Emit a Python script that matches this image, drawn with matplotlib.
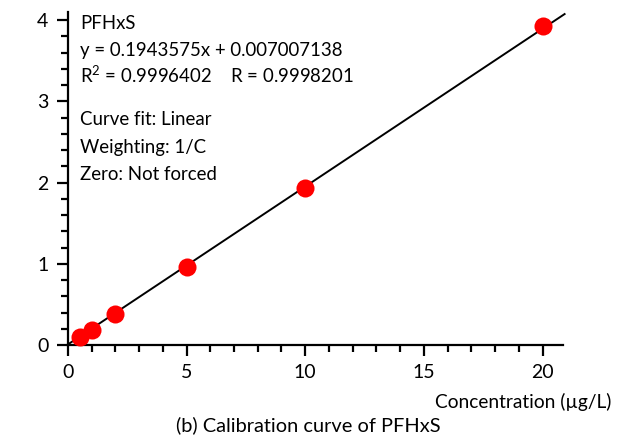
import numpy as np
import matplotlib.pyplot as plt
from matplotlib.ticker import MultipleLocator

# calibration points
conc = [0.5, 1, 2, 5, 10, 20]
response = [0.10, 0.18, 0.38, 0.96, 1.93, 3.93]

slope = 0.1943575
intercept = 0.007007138

info_lines = ["PFHxS", "y = 0.1943575x + 0.007007138", "R$^2$ = 0.9996402    R = 0.9998201",
              "Curve fit: Linear", "Weighting: 1/C", "Zero: Not forced"]
# baselines in axes fraction
info_y = [0.949, 0.868, 0.787, 0.661, 0.577, 0.495]

plt.rcParams['font.family'] = ['Lato', 'DejaVu Sans']
plt.rcParams['mathtext.fontset'] = 'custom'
plt.rcParams['mathtext.rm'] = 'Lato'

fig = plt.figure(figsize=(6.17, 4.37), dpi=100)
ax = fig.add_axes([0.110, 0.2105, 0.802, 0.762])

xfit = np.array([0, 20.93])
ax.plot(xfit, slope * xfit + intercept, color='black', lw=1.4, zorder=2, clip_on=False)
ax.plot(conc, response, 'o', color='#ff0000', ms=13, mec='none', zorder=3, clip_on=False)

ax.set_xlim(0, 20.85)
ax.set_ylim(0, 4.1)
ax.xaxis.set_major_locator(MultipleLocator(5))
ax.xaxis.set_minor_locator(MultipleLocator(1))
ax.yaxis.set_major_locator(MultipleLocator(1))
ax.yaxis.set_minor_locator(MultipleLocator(0.2))

for s in ['top', 'right']:
    ax.spines[s].set_visible(False)
for s in ['left', 'bottom']:
    ax.spines[s].set_linewidth(1.6)

ax.tick_params(which='major', direction='out', length=8, width=1.6, labelsize=14, pad=6)
ax.tick_params(which='minor', direction='out', length=5, width=1.6)

ax.text(1.099, -0.145, "Concentration (µg/L)", transform=ax.transAxes, ha='right', va='top', fontsize=13.8)
fig.text(0.5, 0.028, "(b) Calibration curve of PFHxS", ha='center', va='center', fontsize=14.4)

for t, yy in zip(info_lines, info_y):
    ax.text(0.025, yy, t, transform=ax.transAxes, ha='left', va='baseline', fontsize=13.4)

fig.savefig('out.png', dpi=100)
